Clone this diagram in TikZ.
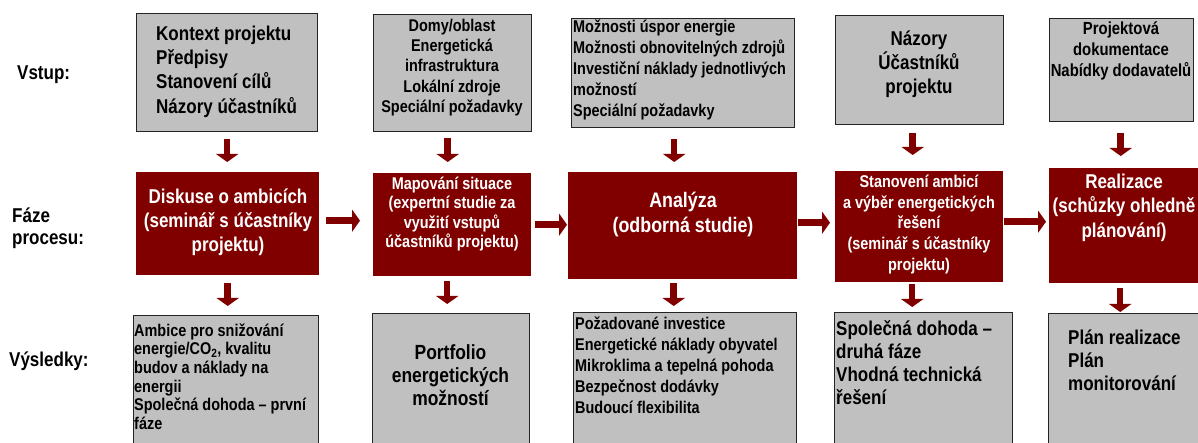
\documentclass[tikz,border=0pt]{standalone}
\usepackage{fontspec}
\setmainfont{Liberation Sans}[FakeStretch=0.85]
\usepackage{tikz}
\usetikzlibrary{arrows.meta}

\definecolor{boxgray}{RGB}{192,192,192}
\definecolor{phasered}{RGB}{128,0,0}
\definecolor{framegray}{RGB}{35,35,35}

\newcommand{\fs}[2]{\fontsize{#1}{#2}\selectfont\bfseries}

\begin{document}
\begin{tikzpicture}[x=1pt,y=-1pt,
      inbox/.style={draw=framegray,line width=1.4pt,fill=boxgray,anchor=north west,inner sep=0pt},
      phase/.style={fill=phasered,anchor=north west,inner sep=0pt},
      txt/.style={inner sep=0pt,align=#1},
      txt/.default=center,
      arr/.style={color=phasered,line width=6.5pt,-{Triangle[length=8pt,width=22pt]}}]
      \path[use as bounding box,fill=white] (0,0) rectangle (1198,443);
      \clip (0,0) rectangle (1198,443);

      % row labels
      \node[txt=left,anchor=west,font=\fs{20}{24}] (lvstup) at (17,75) {Vstup:};
      \node[txt=left,anchor=west,font=\fs{20}{22}] (lfaze) at (12,228) {Fáze\\procesu:};
      \node[txt=left,anchor=west,font=\fs{20}{24}] (lvysl) at (9,361) {Výsledky:};

      % inputs
      \node[inbox,minimum width=181pt,minimum height=118pt] (in1) at (136,13) {};
      \node[inbox,minimum width=158pt,minimum height=117pt] (in2) at (373,14) {};
      \node[inbox,minimum width=223pt,minimum height=109pt] (in3) at (571,18) {};
      \node[inbox,minimum width=168pt,minimum height=109pt] (in4) at (835,15) {};
      \node[inbox,minimum width=144pt,minimum height=103pt] (in5) at (1049,18) {};
      \node[txt=left,anchor=west,font=\fs{20}{24.3}] (in1txt) at (156,71.5)
           {Kontext projektu\\Předpisy\\Stanovení cílů\\Názory účastníků};
      \node[txt,font=\fs{17}{20.3}] (in2txt) at (452,67.5)
           {Domy/oblast\\Energetická\\infrastruktura\\Lokální zdroje\\Speciální požadavky};
      \node[txt=left,anchor=west,font=\fs{17}{21}] (in3txt) at (573,70)
           {Možnosti úspor energie\\Možnosti obnovitelných zdrojů\\Investiční náklady jednotlivých\\možností\\Speciální požadavky};
      \node[txt,font=\fs{20}{24}] (in4txt) at (919,64) {Názory\\Účastníků\\projektu};
      \node[txt,font=\fs{17.5}{21}] (in5txt) at (1121,51) {Projektová\\dokumentace\\Nabídky dodavatelů};

      % phases
      \node[phase,minimum width=183pt,minimum height=103pt] (f1) at (136,172) {};
      \node[phase,minimum width=158pt,minimum height=103pt] (f2) at (373,173) {};
      \node[phase,minimum width=229pt,minimum height=107pt] (f3) at (568,172) {};
      \node[phase,minimum width=168pt,minimum height=111pt] (f4) at (835,171) {};
      \node[phase,minimum width=152pt,minimum height=115pt] (f5) at (1049,168) {};
      \node[txt,text=white,font=\fs{20}{24}] (f1txt) at (228,222)
           {Diskuse o ambicích\\(seminář s účastníky\\projektu)};
      \node[txt,text=white,font=\fs{17}{19.5}] (f2txt) at (452,214)
           {Mapování situace\\(expertní studie za\\využití vstupů\\účastníků projektu)};
      \node[txt,text=white,font=\fs{21}{25}] (f3txt) at (683,214.5) {Analýza\\(odborná studie)};
      \node[txt,text=white,font=\fs{17}{20.7}] (f4txt) at (919,224.5)
           {Stanovení ambicí\\a výběr energetických\\řešení\\(seminář s účastníky\\projektu)};
      \node[txt,text=white,font=\fs{20}{24.5}] (f5txt) at (1124,207.5)
           {Realizace\\(schůzky ohledně\\plánování)};

      % results
      \node[inbox,minimum width=185pt,minimum height=150pt] (v1) at (133,315) {};
      \node[inbox,minimum width=157pt,minimum height=150pt] (v2) at (372,313) {};
      \node[inbox,minimum width=223pt,minimum height=150pt] (v3) at (573,312) {};
      \node[inbox,minimum width=178pt,minimum height=150pt] (v4) at (834,312) {};
      \node[inbox,minimum width=160pt,minimum height=150pt] (v5) at (1048,313) {};
      \node[txt=left,anchor=west,font=\fs{17}{18.7}] (v1txt) at (134,376.5)
           {Ambice pro snižování\\energie/CO\textsubscript{2}, kvalitu\\budov a náklady na\\energii\\Společná dohoda – první\\fáze};
      \node[txt,font=\fs{20.5}{23}] (v2txt) at (450.5,375) {Portfolio\\energetických\\možností};
      \node[txt=left,anchor=west,font=\fs{17}{21}] (v3txt) at (575,365)
           {Požadované investice\\Energetické náklady obyvatel\\Mikroklima a tepelná pohoda\\Bezpečnost dodávky\\Budoucí flexibilita};
      \node[txt=left,anchor=west,font=\fs{20}{23}] (v4txt) at (836,362.5)
           {Společná dohoda –\\druhá fáze\\Vhodná technická\\řešení};
      \node[txt=left,anchor=west,font=\fs{20}{23}] (v5txt) at (1068,360) {Plán realizace\\Plán\\monitorování};

      % arrows input -> phase -> result
      \foreach \a/\b/\dx/\s/\e in {in1/f1/0/7/10,in2/f2/-5/6/11,in3/f3/-9/11/10,in4/f4/-7/8/16,in5/f5/-1/11/12,
                                   f1/v1/0/8/9,f2/v2/-5/5/9,f3/v3/-9/4/6,f4/v4/-7/2/5,f5/v5/-5/5/1}  {
      	\draw[arr,shorten <=\s pt,shorten >=\e pt] ([xshift=\dx pt]\a.south) -- ([xshift=\dx pt]\a.south |- \b.north);
      }
      % arrows between phases
      \foreach \a/\b/\dy/\s/\e in {f1/f2/3/7/13,f2/f3/0/4/1,f3/f4/3/1/5,f4/f5/5/1/3}  {
      	\draw[arr,shorten <=\s pt,shorten >=\e pt] ([yshift=\dy pt]\a.east) -- ([yshift=\dy pt]\a.east -| \b.west);
      }
\end{tikzpicture}
\end{document}
